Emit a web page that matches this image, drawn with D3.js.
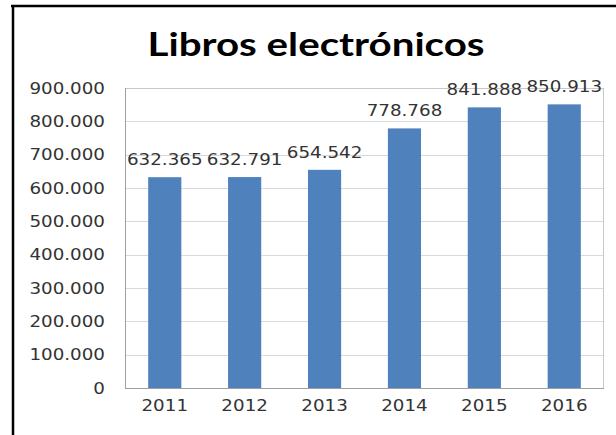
<!DOCTYPE html>
<html>
<head>
<meta charset="utf-8">
<script src="https://cdn.jsdelivr.net/npm/d3@7"></script>
<style>
	body { margin: 0; background: #fff; }
	svg { display: block; }
</style>
</head>
<body>
<div id="chart"></div>
<script>
// Chart data
const years = ["2011", "2012", "2013", "2014", "2015", "2016"];
const ebooks = [632365, 632791, 654542, 778768, 841888, 850913];
const yTicks = [0, 100000, 200000, 300000, 400000, 500000, 600000, 700000, 800000, 900000];
const chartTitle = "Libros electrónicos";

const W = 616, H = 435;
const margin = {top: 88, right: 12, bottom: 47, left: 125};
const width = W - margin.left - margin.right;
const height = H - margin.top - margin.bottom;

// text in the picture is a bit stretched sideways
const stretch = 1.22;

// es-style thousands separator
const fmt = v => d3.format(",")(v).replace(/,/g, ".");

const svg = d3.select("#chart").append("svg")
	.attr("width", W)
	.attr("height", H);

// outer frame (only top and left are visible)
svg.append("line")
	.attr("x1", 11).attr("x2", W)
	.attr("y1", 6).attr("y2", 6)
	.attr("stroke", "#000").attr("stroke-width", 2.5);
svg.append("line")
	.attr("x1", 13).attr("x2", 13)
	.attr("y1", 5).attr("y2", H)
	.attr("stroke", "#000").attr("stroke-width", 2.5);

// title
svg.append("text")
	.attr("transform", `translate(316,56) scale(1.28,1)`)
	.attr("text-anchor", "middle")
	.style("font-family", "Lato, 'Open Sans', sans-serif")
	.style("font-weight", "bold")
	.style("font-size", "31.5px")
	.style("fill", "#000")
	.text(chartTitle);

const g = svg.append("g")
	.attr("transform", `translate(${margin.left},${margin.top})`);

const x = d3.scaleBand()
	.domain(years)
	.range([0, width])
	.paddingInner(0.585)
	.paddingOuter(0.29);

const y = d3.scaleLinear()
	.domain([0, 900000])
	.range([height, 0]);

// gridlines
g.selectAll(".grid")
	.data(yTicks)
	.enter().append("line")
	.attr("class", "grid")
	.attr("x1", 0).attr("x2", width)
	.attr("y1", d => Math.round(y(d)) + 0.5)
	.attr("y2", d => Math.round(y(d)) + 0.5)
	.attr("stroke", "#d9d9d9");

// plot box
g.append("rect")
	.attr("x", 0.5).attr("y", 0.5)
	.attr("width", width - 1).attr("height", height)
	.attr("fill", "none")
	.attr("stroke", "#c8c8c8");

// bars
g.selectAll(".bar")
	.data(years)
	.enter().append("rect")
	.attr("class", "bar")
	.attr("x", (d) => x(d))
	.attr("width", x.bandwidth())
	.attr("y", (d, i) => y(ebooks[i]))
	.attr("height", (d, i) => height - y(ebooks[i]))
	.attr("fill", "#4f81bd");

// axis lines
g.append("line")
	.attr("x1", 0.5).attr("x2", 0.5)
	.attr("y1", 0).attr("y2", height)
	.attr("stroke", "#a0a0a0");
g.append("line")
	.attr("x1", 0).attr("x2", width)
	.attr("y1", height + 0.5).attr("y2", height + 0.5)
	.attr("stroke", "#a0a0a0");

const textStyle = sel => sel
	.style("font-family", "'DejaVu Sans', Verdana, sans-serif")
	.style("font-size", "15px")
	.style("fill", "#333");

// y axis labels
g.selectAll(".ylab")
	.data(yTicks)
	.enter().append("text")
	.attr("class", "ylab")
	.attr("transform", d => `translate(-20,${y(d) + 5.5}) scale(${stretch},1)`)
	.attr("text-anchor", "end")
	.call(textStyle)
	.text(d => fmt(d));

// x axis labels
g.selectAll(".xlab")
	.data(years)
	.enter().append("text")
	.attr("class", "xlab")
	.attr("transform", d => `translate(${x(d) + x.bandwidth() / 2},${height + 23}) scale(${stretch},1)`)
	.attr("text-anchor", "middle")
	.call(textStyle)
	.text(d => d);

// data labels
g.selectAll(".vlab")
	.data(years)
	.enter().append("text")
	.attr("class", "vlab")
	.attr("transform", (d, i) => `translate(${x(d) + x.bandwidth() / 2},${y(ebooks[i]) - 12}) scale(${stretch},1)`)
	.attr("text-anchor", "middle")
	.call(textStyle)
	.text((d, i) => fmt(ebooks[i]));
</script>
</body>
</html>
